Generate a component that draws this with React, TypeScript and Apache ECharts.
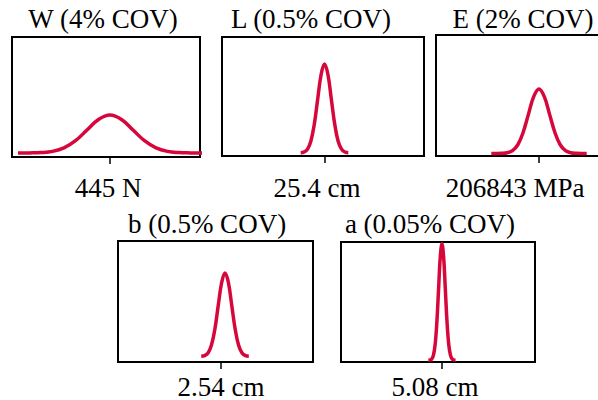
import React, { useEffect, useRef } from "react";
import * as echarts from "echarts";

const titles = ["W (4% COV)", "L (0.5% COV)", "E (2% COV)", "b (0.5% COV)", "a (0.05% COV)"];
const tickLabels = ["445 N", "25.4 cm", "206843 MPa", "2.54 cm", "5.08 cm"];
const tickValues = [445, 25.4, 206843, 2.54, 5.08];

const wX = [373.8, 382.7, 391.6, 400.5, 409.4, 418.3, 427.2, 436.1, 445, 453.9, 462.8, 471.7, 480.6, 489.5, 498.4, 507.3, 516.2];
const wY = [0.033, 0.034, 0.037, 0.047, 0.076, 0.136, 0.225, 0.313, 0.35, 0.313, 0.225, 0.136, 0.076, 0.047, 0.037, 0.034, 0.033];

const lX = [24.955, 25.019, 25.083, 25.146, 25.21, 25.273, 25.337, 25.4, 25.464, 25.527, 25.591, 25.654, 25.718, 25.781, 25.845];
const lY = [0.027, 0.033, 0.058, 0.126, 0.268, 0.479, 0.685, 0.773, 0.685, 0.479, 0.268, 0.126, 0.058, 0.033, 0.027];

const eX = [188227, 190295, 192364, 194432, 196501, 198569, 200638, 202706, 204775, 206843, 208912, 210980, 213049, 215117, 217186, 219254, 221323, 223391, 225460];
const eY = [0.021, 0.021, 0.022, 0.027, 0.044, 0.093, 0.194, 0.344, 0.491, 0.554, 0.491, 0.344, 0.194, 0.093, 0.044, 0.027, 0.022, 0.021, 0.021];

const bX = [2.5031, 2.5094, 2.5158, 2.5221, 2.5285, 2.5348, 2.5412, 2.5475, 2.5539, 2.5602, 2.5666, 2.5729, 2.5793, 2.5856, 2.592];
const bY = [0.047, 0.053, 0.075, 0.138, 0.269, 0.464, 0.655, 0.736, 0.655, 0.464, 0.269, 0.138, 0.075, 0.053, 0.047];

const aX = [5.06984, 5.07111, 5.07238, 5.07365, 5.07492, 5.07619, 5.07746, 5.07873, 5.08, 5.08127, 5.08254, 5.08381, 5.08508, 5.08635, 5.08762, 5.08889, 5.09016];
const aY = [0.015, 0.017, 0.026, 0.058, 0.146, 0.33, 0.603, 0.871, 0.985, 0.871, 0.603, 0.33, 0.146, 0.058, 0.026, 0.017, 0.015];

const curvesX = [wX, lX, eX, bX, aX];
const curvesY = [wY, lY, eY, bY, aY];

const panels = [
  { left: 12, top: 37, width: 188, height: 120, min: 369.15, max: 514.66, titleX: 103, titleY: 19, labelX: 108, labelY: 188 },
  { left: 222, top: 37, width: 202, height: 119, min: 23.484, max: 27.26, titleX: 311, titleY: 19, labelX: 317, labelY: 188 },
  { left: 436, top: 35, width: 204, height: 121, min: 166642, max: 246263, titleX: 523, titleY: 19, labelX: 515, labelY: 188 },
  { left: 118, top: 241, width: 195, height: 121, min: 2.3476, max: 2.7119, titleX: 207, titleY: 224, labelX: 221, labelY: 386.5 },
  { left: 341, top: 242, width: 194, height: 120, min: 5.0046, max: 5.1495, titleX: 430, titleY: 224, labelX: 435, labelY: 386.5 },
];

const RED = "#d6083b";
const FONT = "27px 'Liberation Serif', 'Times New Roman', serif";

export default function App() {
  const ref = useRef<HTMLDivElement>(null);
  useEffect(() => {
    if (!ref.current) return;
    const chart = echarts.init(ref.current, undefined, { renderer: "svg" });
    const texts: any[] = [];
    panels.forEach((p, i) => {
      texts.push({
        type: "text",
        x: p.titleX,
        y: p.titleY,
        style: { text: titles[i], fill: "#000", font: FONT, align: "center", verticalAlign: "middle" },
      });
      texts.push({
        type: "text",
        x: p.labelX,
        y: p.labelY,
        style: { text: tickLabels[i], fill: "#000", font: FONT, align: "center", verticalAlign: "middle" },
      });
    });
    const option: any = {
      animation: false,
      backgroundColor: "#fff",
      grid: panels.map((p) => ({
        left: p.left,
        top: p.top,
        width: p.width,
        height: p.height,
        show: true,
        borderColor: "#000",
        borderWidth: 2,
        backgroundColor: "transparent",
        containLabel: false,
        outerBoundsMode: "none",
      })),
      xAxis: panels.map((p, i) => ({
        type: "value",
        gridIndex: i,
        min: p.min,
        max: p.max,
        position: "bottom",
        offset: 5,
        axisLine: { show: false },
        axisTick: { show: true, length: 7, customValues: [tickValues[i]], lineStyle: { color: "#000", width: 1.5 } },
        axisLabel: { show: false },
        splitLine: { show: false },
      })),
      yAxis: panels.map((p, i) => ({
        type: "value",
        gridIndex: i,
        min: 0,
        max: 1,
        show: false,
        splitLine: { show: false },
      })),
      series: panels.map((p, i) => ({
        type: "line",
        xAxisIndex: i,
        yAxisIndex: i,
        data: curvesX[i].map((x, j) => [x, curvesY[i][j]]),
        showSymbol: false,
        smooth: 0.4,
        clip: false,
        lineStyle: { color: RED, width: 3.5 },
      })),
      graphic: texts,
    };
    chart.setOption(option);
    return () => chart.dispose();
  }, []);
  return <div ref={ref} style={{ position: "fixed", left: 0, top: 0, width: 598, height: 400 }} />;
}
